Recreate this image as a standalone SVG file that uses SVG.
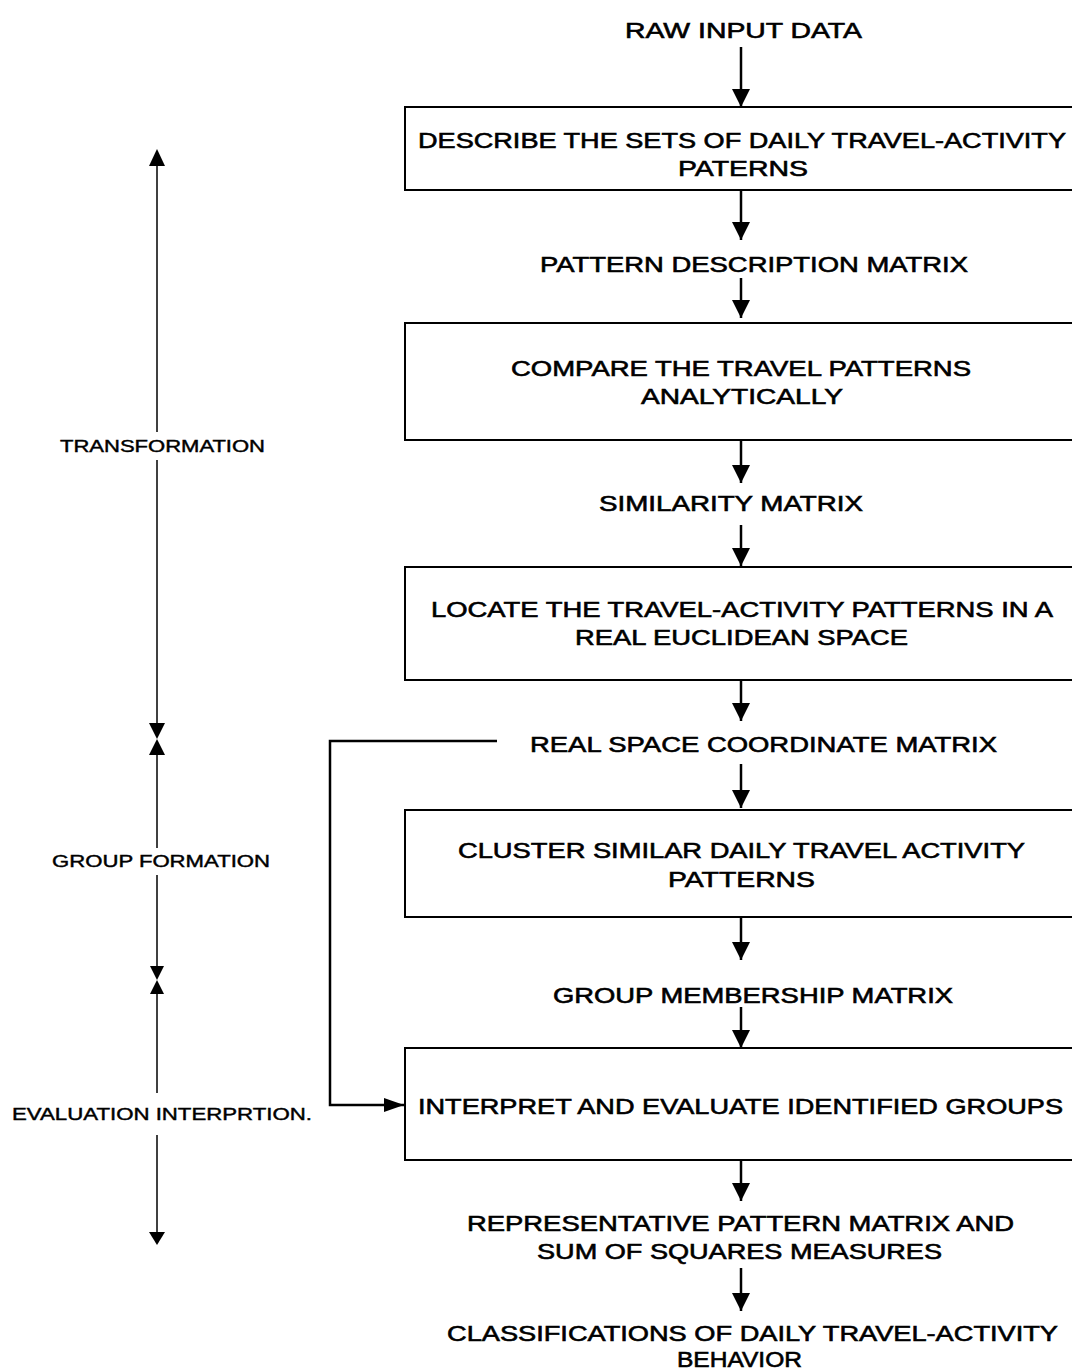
<svg xmlns="http://www.w3.org/2000/svg" width="1072" height="1371" viewBox="0 0 1072 1371">
<defs>
<style>
.t{font-family:"Liberation Sans",Arial,sans-serif;font-size:22px;fill:#000;stroke:#000;stroke-width:0.6}
.s{font-family:"Liberation Sans",Arial,sans-serif;font-size:16px;fill:#000;stroke:#000;stroke-width:0.4}
.box{fill:#fff;stroke:#000;stroke-width:2}
.ln{fill:none;stroke:#000;stroke-width:2.5}
.thin{fill:none;stroke:#000;stroke-width:1.5}
.ah{fill:#000}
</style>
<marker id="arr" viewBox="0 0 18 18" refX="18" refY="9" markerWidth="18" markerHeight="18" markerUnits="userSpaceOnUse" orient="auto">
<path d="M0,0 L18,9 L0,18 Z" fill="#000"/>
</marker>
<marker id="arrh" viewBox="0 0 20 14" refX="20" refY="7" markerWidth="20" markerHeight="14" markerUnits="userSpaceOnUse" orient="auto">
<path d="M0,0 L20,7 L0,14 Z" fill="#000"/>
</marker>
</defs>
<rect width="1072" height="1371" fill="#fff"/>

<g id="connectors">
<line class="ln" x1="741" y1="47" x2="741" y2="107" marker-end="url(#arr)"/>
<line class="ln" x1="741" y1="190" x2="741" y2="240" marker-end="url(#arr)"/>
<line class="ln" x1="741" y1="278" x2="741" y2="318" marker-end="url(#arr)"/>
<line class="ln" x1="741" y1="440" x2="741" y2="483" marker-end="url(#arr)"/>
<line class="ln" x1="741" y1="525" x2="741" y2="566" marker-end="url(#arr)"/>
<line class="ln" x1="741" y1="680" x2="741" y2="721" marker-end="url(#arr)"/>
<line class="ln" x1="741" y1="764" x2="741" y2="808" marker-end="url(#arr)"/>
<line class="ln" x1="741" y1="917" x2="741" y2="960" marker-end="url(#arr)"/>
<line class="ln" x1="741" y1="1007" x2="741" y2="1048" marker-end="url(#arr)"/>
<line class="ln" x1="741" y1="1160" x2="741" y2="1201" marker-end="url(#arr)"/>
<line class="ln" x1="741" y1="1268" x2="741" y2="1311" marker-end="url(#arr)"/>
<polyline class="ln" points="497,741 330,741 330,1105 404,1105" marker-end="url(#arrh)"/>
</g>

<g id="phase-axis">
<line class="thin" x1="157" y1="160" x2="157" y2="432"/>
<line class="thin" x1="157" y1="460" x2="157" y2="726"/>
<line class="thin" x1="157" y1="752" x2="157" y2="848"/>
<line class="thin" x1="157" y1="875" x2="157" y2="968"/>
<line class="thin" x1="157" y1="992" x2="157" y2="1093"/>
<line class="thin" x1="157" y1="1135" x2="157" y2="1235"/>
<path class="ah" d="M157,149 L149,166 L165,166 Z"/>
<path class="ah" d="M157,739 L149,723 L165,723 Z"/>
<path class="ah" d="M157,739 L149,755 L165,755 Z"/>
<path class="ah" d="M157,980 L150,966 L164,966 Z"/>
<path class="ah" d="M157,980 L150,994 L164,994 Z"/>
<path class="ah" d="M157,1245 L149,1232 L165,1232 Z"/>
</g>

<g id="label-transformation"><text class="s" x="60" y="452" textLength="205" lengthAdjust="spacingAndGlyphs">TRANSFORMATION</text></g>
<g id="label-group-formation"><text class="s" x="52" y="867" textLength="218" lengthAdjust="spacingAndGlyphs">GROUP FORMATION</text></g>
<g id="label-evaluation"><text class="s" x="12" y="1120" textLength="300" lengthAdjust="spacingAndGlyphs">EVALUATION INTERPRTION.</text></g>

<g id="raw-input"><text class="t" x="625" y="38" textLength="237" lengthAdjust="spacingAndGlyphs">RAW INPUT DATA</text></g>

<g id="box-describe">
<rect class="box" x="405" y="107" width="680" height="83"/>
<text class="t" x="418" y="148" textLength="648" lengthAdjust="spacingAndGlyphs">DESCRIBE THE SETS OF DAILY TRAVEL-ACTIVITY</text>
<text class="t" x="678" y="176" textLength="130" lengthAdjust="spacingAndGlyphs">PATERNS</text>
</g>

<g id="pattern-description"><text class="t" x="540" y="272" textLength="428" lengthAdjust="spacingAndGlyphs">PATTERN DESCRIPTION MATRIX</text></g>

<g id="box-compare">
<rect class="box" x="405" y="323" width="680" height="117"/>
<text class="t" x="511" y="376" textLength="460" lengthAdjust="spacingAndGlyphs">COMPARE THE TRAVEL PATTERNS</text>
<text class="t" x="641" y="404" textLength="202" lengthAdjust="spacingAndGlyphs">ANALYTICALLY</text>
</g>

<g id="similarity"><text class="t" x="599" y="511" textLength="264" lengthAdjust="spacingAndGlyphs">SIMILARITY MATRIX</text></g>

<g id="box-locate">
<rect class="box" x="405" y="567" width="680" height="113"/>
<text class="t" x="431" y="617" textLength="622" lengthAdjust="spacingAndGlyphs">LOCATE THE TRAVEL-ACTIVITY PATTERNS IN A</text>
<text class="t" x="575" y="645" textLength="333" lengthAdjust="spacingAndGlyphs">REAL EUCLIDEAN SPACE</text>
</g>

<g id="real-space"><text class="t" x="530" y="752" textLength="467" lengthAdjust="spacingAndGlyphs">REAL SPACE COORDINATE MATRIX</text></g>

<g id="box-cluster">
<rect class="box" x="405" y="810" width="680" height="107"/>
<text class="t" x="458" y="858" textLength="567" lengthAdjust="spacingAndGlyphs">CLUSTER SIMILAR DAILY TRAVEL ACTIVITY</text>
<text class="t" x="668" y="887" textLength="147" lengthAdjust="spacingAndGlyphs">PATTERNS</text>
</g>

<g id="group-membership"><text class="t" x="553" y="1003" textLength="400" lengthAdjust="spacingAndGlyphs">GROUP MEMBERSHIP MATRIX</text></g>

<g id="box-interpret">
<rect class="box" x="405" y="1048" width="680" height="112"/>
<text class="t" x="418" y="1114" textLength="645" lengthAdjust="spacingAndGlyphs">INTERPRET AND EVALUATE IDENTIFIED GROUPS</text>
</g>

<g id="representative">
<text class="t" x="467" y="1231" textLength="547" lengthAdjust="spacingAndGlyphs">REPRESENTATIVE PATTERN MATRIX AND</text>
<text class="t" x="537" y="1259" textLength="405" lengthAdjust="spacingAndGlyphs">SUM OF SQUARES MEASURES</text>
</g>

<g id="classifications">
<text class="t" x="447" y="1341" textLength="611" lengthAdjust="spacingAndGlyphs">CLASSIFICATIONS OF DAILY TRAVEL-ACTIVITY</text>
<text class="t" x="677" y="1367" textLength="125" lengthAdjust="spacingAndGlyphs">BEHAVIOR</text>
</g>
</svg>
